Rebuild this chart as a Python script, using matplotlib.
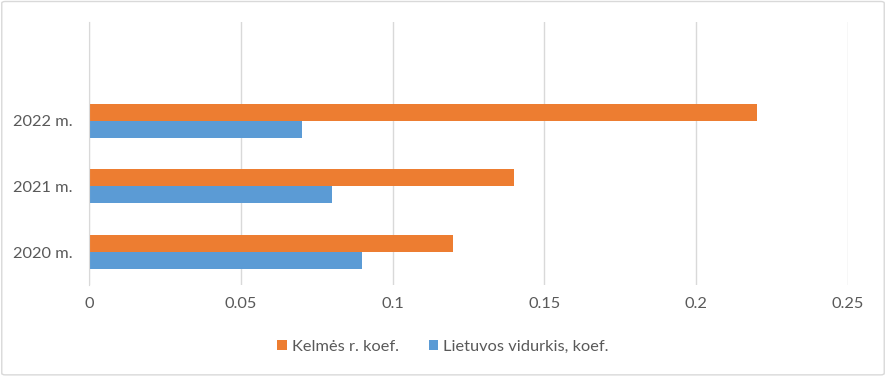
import matplotlib
matplotlib.use("Agg")
import matplotlib.pyplot as plt
from matplotlib.patches import FancyBboxPatch
import numpy as np

# ── data ──────────────────────────────────────────────────────────────────────
years     = ["2020 m.", "2021 m.", "2022 m."]
kelme     = [0.12, 0.14, 0.22]
lietuva   = [0.09, 0.08, 0.07]
xticks    = [0, 0.05, 0.1, 0.15, 0.2, 0.25]
xlabels   = ["0", "0.05", "0.1", "0.15", "0.2", "0.25"]

ORANGE = "#ED7D31"
BLUE   = "#5B9BD5"
TEXT   = "#595959"
GRID   = "#D9D9D9"

plt.rcParams["font.family"] = ["Lato", "DejaVu Sans"]

fig = plt.figure(figsize=(8.86, 3.76), dpi=100)
ax = fig.add_axes([89 / 886, 1 - 285 / 376, (848 - 89) / 886, (285 - 22) / 376])

y = np.arange(len(years))
h = 0.26
ax.barh(y + h / 2, kelme, height=h, color=ORANGE, label="Kelmės r. koef.", zorder=3)
ax.barh(y - h / 2, lietuva, height=h, color=BLUE, label="Lietuvos vidurkis, koef.", zorder=3)

ax.set_xlim(0, 0.25)
ax.set_ylim(-0.5, 3.5)
ax.set_xticks(xticks)
ax.set_xticklabels(xlabels)
ax.set_yticks(y)
ax.set_yticklabels(years)
ax.tick_params(axis="both", length=0, labelsize=11.8, labelcolor=TEXT)
ax.tick_params(axis="x", pad=9)
ax.tick_params(axis="y", pad=12)
ax.grid(axis="x", color=GRID, linewidth=1, zorder=0)
for s in ["top", "right", "bottom"]:
    ax.spines[s].set_visible(False)
ax.spines["left"].set_color(GRID)
ax.spines["left"].set_zorder(4)

fig.legend(loc="center", bbox_to_anchor=(0.5, 1 - 347 / 376), ncol=2, frameon=False,
           fontsize=11.8, labelcolor=TEXT, handlelength=0.6, handleheight=0.6,
           handletextpad=0.3, columnspacing=1.8)

# chart border
fig.patches.append(FancyBboxPatch((0.002, 0.003), 0.996, 0.993, boxstyle="round,pad=0,rounding_size=0.004",
                                  transform=fig.transFigure, fill=False, edgecolor=GRID, linewidth=1))

fig.savefig("out.png", dpi=100)
